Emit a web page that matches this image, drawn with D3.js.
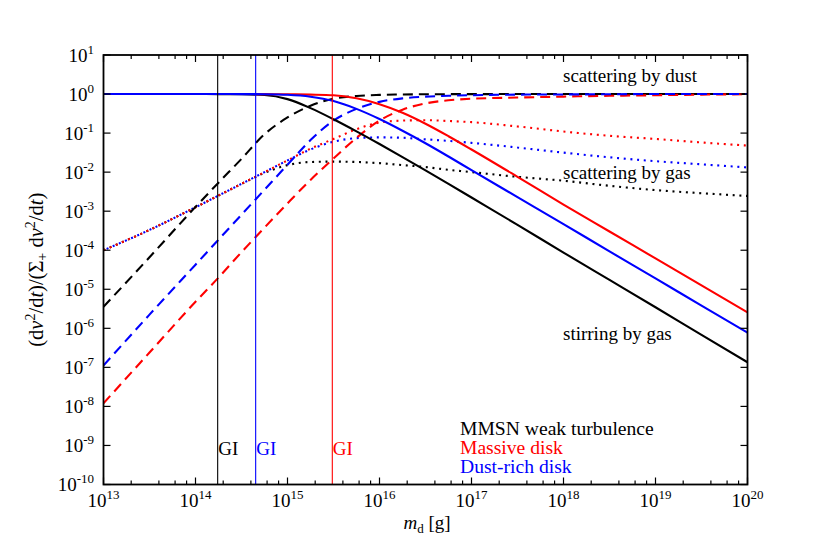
<!DOCTYPE html>
<html>
<head>
<meta charset="utf-8">
<script src="https://d3js.org/d3.v7.min.js"></script>
<style>
  body { margin: 0; background: #fff; }
  text { font-family: "Liberation Serif", "DejaVu Serif", serif; }
</style>
</head>
<body>
<svg id="chart" width="830" height="554"></svg>
<script>
// mass grid, log10(m_d / g)
var massExp = [13, 13.5, 14, 14.25, 14.5, 14.75, 15, 15.25, 15.5, 15.75, 16, 16.25, 16.5, 16.75, 17, 17.5, 18, 18.5, 19, 19.5, 20];

// log10 of the fraction
// stirring by gas (solid)
var stirMMSN    = [0, 0, 0, -0.002, -0.006, -0.025, -0.13, -0.36, -0.645, -0.955, -1.28, -1.615, -1.955, -2.3, -2.65, -3.35, -4.06, -4.76, -5.46, -6.17, -6.87];
var stirMassive = [0, 0, 0, 0, 0, -0.002, -0.006, -0.014, -0.03, -0.11, -0.26, -0.48, -0.76, -1.08, -1.42, -2.12, -2.83, -3.52, -4.21, -4.9, -5.59];
var stirDust    = [0, 0, 0, 0, -0.001, -0.005, -0.02, -0.07, -0.18, -0.38, -0.64, -0.94, -1.26, -1.6, -1.95, -2.64, -3.33, -4.03, -4.72, -5.42, -6.11];
// scattering by dust (dashed)
var dustMMSN    = [-5.45, -4.18, -2.89, -2.27, -1.66, -1.03, -0.6, -0.3, -0.12, -0.05, -0.022, -0.011, -0.006, -0.003, -0.002, 0, 0, 0, 0, 0, 0];
var dustMassive = [-7.92, -6.62, -5.32, -4.7, -4.05, -3.42, -2.8, -2.2, -1.65, -1.12, -0.68, -0.4, -0.24, -0.16, -0.12, -0.09, -0.065, -0.045, -0.03, -0.015, -0.005];
var dustDust    = [-6.95, -5.65, -4.37, -3.73, -3.09, -2.45, -1.81, -1.18, -0.68, -0.38, -0.2, -0.11, -0.065, -0.045, -0.03, -0.015, -0.01, -0.005, 0, 0, 0];
// scattering by gas (dotted)
var gasMMSN     = [-4.0, -3.48, -2.9, -2.6, -2.3, -2.02, -1.82, -1.74, -1.73, -1.74, -1.77, -1.82, -1.87, -1.94, -2.0, -2.12, -2.22, -2.35, -2.46, -2.54, -2.61];
var gasMassive  = [-4.0, -3.48, -2.9, -2.6, -2.3, -2.0, -1.7, -1.4, -1.15, -0.9, -0.73, -0.68, -0.67, -0.69, -0.72, -0.83, -0.96, -1.07, -1.15, -1.24, -1.32];
var gasDust     = [-4.0, -3.48, -2.9, -2.6, -2.3, -2.0, -1.7, -1.42, -1.22, -1.13, -1.11, -1.12, -1.16, -1.2, -1.25, -1.37, -1.5, -1.62, -1.72, -1.8, -1.88];

// gravitational instability masses (log10 g): MMSN, dust-rich, massive
var giExp = [14.241, 14.654, 15.487];
var giColors = ["#000000", "#0000ff", "#ff0000"];

var xTickExp = [13, 14, 15, 16, 17, 18, 19, 20];
var yTickExp = [-10, -9, -8, -7, -6, -5, -4, -3, -2, -1, 0, 1];
var minorMult = [2, 4, 6, 8];

var legendLabels = ["MMSN weak turbulence", "Massive disk", "Dust-rich disk"];
var colors = ["#000000", "#ff0000", "#0000ff"];

var svg = d3.select("#chart");
var pLeft = 103.5, pRight = 747.5, pTop = 55, pBottom = 484.5;

var x = d3.scaleLog().domain([1e13, 1e20]).range([pLeft, pRight]);
var y = d3.scaleLog().domain([1e-10, 1e1]).range([pBottom, pTop]);

var line = d3.line()
    .x(function(d) { return x(Math.pow(10, d[0])); })
    .y(function(d) { return y(Math.pow(10, d[1])); })
    .curve(d3.curveMonotoneX);

function pts(vals) { return massExp.map(function(e, i) { return [e, vals[i]]; }); }

var series = [
  { v: gasMMSN,     c: 0, dash: "2,4.7", off: 0 },
  { v: gasMassive,  c: 1, dash: "2,4.7", off: 0 },
  { v: gasDust,     c: 2, dash: "2,4.7", off: 3.3 },
  { v: dustMMSN,    c: 0, dash: "10,6", off: 0 },
  { v: dustMassive, c: 1, dash: "10,6", off: 0 },
  { v: dustDust,    c: 2, dash: "10,6", off: 0 },
  { v: stirMMSN,    c: 0, dash: null, off: 0 },
  { v: stirMassive, c: 1, dash: null, off: 0 },
  { v: stirDust,    c: 2, dash: null, off: 0 }
];

var plot = svg.append("g");
plot.append("clipPath").attr("id", "clip")
  .append("rect").attr("x", pLeft).attr("y", pTop)
  .attr("width", pRight - pLeft).attr("height", pBottom - pTop);

var curves = plot.append("g").attr("clip-path", "url(#clip)");
series.forEach(function(s) {
  curves.append("path")
    .attr("d", line(pts(s.v)))
    .attr("fill", "none")
    .attr("stroke", colors[s.c])
    .attr("stroke-width", 2.1)
    .attr("stroke-dasharray", s.dash)
    .attr("stroke-dashoffset", s.off);
});

// GI lines
giExp.forEach(function(e, i) {
  var gx = x(Math.pow(10, e));
  plot.append("line")
    .attr("x1", gx).attr("x2", gx).attr("y1", pTop).attr("y2", pBottom)
    .attr("stroke", giColors[i]).attr("stroke-width", 1.1);
  plot.append("text")
    .attr("x", gx + 0.5).attr("y", 455)
    .attr("font-size", 19).attr("fill", giColors[i])
    .text("GI");
});

// frame
svg.append("rect")
  .attr("x", pLeft).attr("y", pTop)
  .attr("width", pRight - pLeft).attr("height", pBottom - pTop)
  .attr("fill", "none").attr("stroke", "#000").attr("stroke-width", 1.8);

// x ticks
var ticks = svg.append("g").attr("stroke", "#000").attr("stroke-width", 1.2);
xTickExp.forEach(function(e) {
  var tx = x(Math.pow(10, e));
  ticks.append("line").attr("x1", tx).attr("x2", tx).attr("y1", pBottom).attr("y2", pBottom - 7);
  ticks.append("line").attr("x1", tx).attr("x2", tx).attr("y1", pTop).attr("y2", pTop + 7);
  if (e < 20) {
    minorMult.forEach(function(m) {
      var mx = x(m * Math.pow(10, e));
      ticks.append("line").attr("x1", mx).attr("x2", mx).attr("y1", pBottom).attr("y2", pBottom - 4);
      ticks.append("line").attr("x1", mx).attr("x2", mx).attr("y1", pTop).attr("y2", pTop + 4);
    });
  }
  var t = svg.append("text").attr("x", tx).attr("y", 507)
    .attr("text-anchor", "middle").attr("font-size", 19);
  t.append("tspan").text("10");
  t.append("tspan").attr("dy", -8).attr("font-size", 13).text(e);
});

// y ticks
yTickExp.forEach(function(e) {
  var ty = y(Math.pow(10, e));
  ticks.append("line").attr("x1", pLeft).attr("x2", pLeft + 7).attr("y1", ty).attr("y2", ty);
  ticks.append("line").attr("x1", pRight).attr("x2", pRight - 7).attr("y1", ty).attr("y2", ty);
  var t = svg.append("text").attr("x", 94).attr("y", ty + 6.5)
    .attr("text-anchor", "end").attr("font-size", 19);
  t.append("tspan").text("10");
  t.append("tspan").attr("dy", -8).attr("font-size", 13).text(e);
});

// axis titles
var xt = svg.append("text").attr("x", 427).attr("y", 529)
  .attr("text-anchor", "middle").attr("font-size", 19);
xt.append("tspan").attr("font-style", "italic").text("m");
xt.append("tspan").attr("dy", 4).attr("font-size", 13).text("d");
xt.append("tspan").attr("dy", -4).text(" [g]");

var yt = svg.append("text")
  .attr("transform", "translate(43," + ((pTop + pBottom) / 2) + ") rotate(-90)")
  .attr("text-anchor", "middle").attr("font-size", 20.5);
function rich(t, parts) {
  parts.forEach(function(p) {
    var s = t.append("tspan").text(p[0]);
    if (p[1] === "i") s.attr("font-style", "italic");
    if (p[1] === "sup") s.attr("dy", -8).attr("font-size", 14);
    if (p[1] === "sub") s.attr("dy", 4).attr("font-size", 14);
    if (p[2]) s.attr("dy", p[2]);
  });
}
rich(yt, [["(d"], ["v", "i"], ["2", "sup"], ["/d", null, 8], ["t", "i"], [")/(Σ"],
  ["+", "sub"], [" d", null, -4], ["v", "i"], ["2", "sup"], ["/d", null, 8], ["t", "i"], [")"]]);

// curve labels
var notes = [["scattering by dust", 82], ["scattering by gas", 179], ["stirring by gas", 340]];
notes.forEach(function(n) {
  svg.append("text").attr("x", 563).attr("y", n[1]).attr("font-size", 19).text(n[0]);
});

// legend
legendLabels.forEach(function(l, i) {
  svg.append("text").attr("x", 460).attr("y", 435 + i * 19)
    .attr("font-size", 19.6).attr("fill", colors[i]).text(l);
});
</script>
</body>
</html>
